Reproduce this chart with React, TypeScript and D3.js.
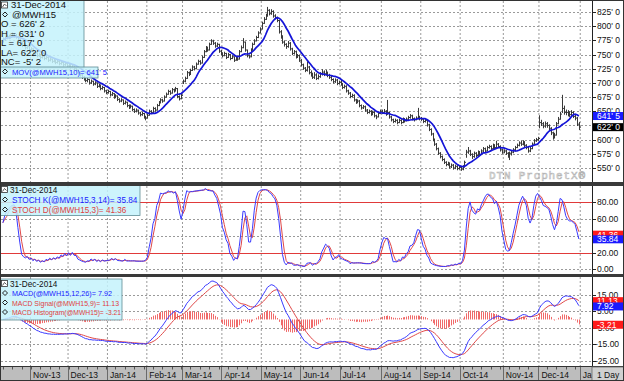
import React from "react";
import * as d3 from "d3";

// ---------- DATA (daily bars, first bar = 15 trading days before 1-Nov-2013) ----------
const firstIndex = -15;

const closes = [
  776,779,782,780,784,786,783,781,776,771,
  766,768,762,764,758,760,750,753,748,750,
  745,747,743,745,740,742,738,740,736,738,
  734,736,732,734,730,732,728,730,725,722,
  718,714,710,707,704,706,700,703,698,700,
  694,696,690,692,686,683,685,679,681,675,
  677,671,668,670,664,666,660,657,659,653,
  650,652,647,644,646,640,638,643,650,648,
  655,652,660,665,670,668,675,680,685,682,
  688,686,690,676,672,678,703,708,718,715,
  722,728,725,733,738,735,745,755,762,758,
  768,774,770,765,768,756,752,748,752,745,
  750,743,746,740,744,742,755,762,772,758,
  748,746,758,768,774,780,788,795,805,812,
  818,828,822,826,818,815,810,790,782,772,
  768,764,770,760,752,755,746,748,740,732,
  726,722,728,718,714,710,714,708,711,716,
  719,716,718,713,710,706,702,705,699,701,
  698,692,694,686,682,676,678,670,666,668,
  660,656,658,652,648,650,645,648,642,640,
  646,650,648,650,645,648,640,635,632,634,
  630,634,630,636,633,636,639,642,637,635,
  638,640,637,636,632,634,626,618,610,600,
  592,584,576,570,565,560,556,558,552,555,
  550,553,549,551,548,552,560,578,580,574,
  570,576,572,578,574,580,584,580,586,588,
  584,590,586,592,588,582,578,580,576,574,
  576,578,582,586,590,594,592,596,590,586,
  580,584,592,598,600,602,630,628,624,628,
  625,620,612,605,608,628,636,645,655,648,
  648,645,644,648,641,638,627.25,622,
];

const highs = [
  780,782,785,785,787,789,788,786,783,778,
  772,771,769,767,765,763,761,756,754,753,
  751,750,748,748,746,745,743,743,741,741,
  739,739,737,737,735,735,733,733,731,727,
  723,719,716,712,709,709,707,706,704,703,
  701,699,697,695,693,688,688,686,684,682,
  680,678,673,673,671,669,667,662,662,660,
  655,655,653,649,649,647,642,646,653,652,
  658,657,663,668,673,672,678,683,688,687,
  691,690,693,691,678,681,706,711,721,720,
  725,731,730,736,741,740,748,758,765,764,
  771,777,776,772,771,769,758,754,755,753,
  753,751,749,747,747,746,758,766,779,773,
  759,750,761,771,777,783,791,798,808,816,
  822,834,830,830,828,821,817,811,793,784,
  775,770,774,772,762,758,757,751,750,742,
  734,728,738,730,722,718,719,717,715,719,
  724,722,723,720,716,713,708,708,707,704,
  706,700,697,696,688,684,681,680,672,671,
  670,662,661,660,654,653,652,651,650,644,
  649,653,653,654,652,670,649,642,637,637,
  636,637,636,639,638,639,642,645,644,639,
  641,656,642,640,638,637,636,628,620,612,
  602,594,586,578,572,567,562,561,560,558,
  557,556,555,554,553,555,563,582,587,582,
  576,579,578,581,580,583,587,586,589,591,
  590,593,592,598,594,590,584,583,582,578,
  579,581,585,589,593,597,598,599,597,592,
  588,587,595,601,603,605,643,635,631,632,
  631,627,622,614,612,631,640,649,679,660,
  653,652,650,652,650,644,640,631,
];

const lows = [
  771,774,777,777,778,781,780,778,773,768,
  763,764,759,760,755,756,747,749,745,746,
  742,743,740,741,737,738,735,736,733,734,
  731,732,729,730,727,728,725,726,722,719,
  715,711,707,704,701,701,697,698,695,696,
  691,692,687,688,683,680,681,676,677,672,
  673,668,665,666,661,662,657,654,655,650,
  647,648,644,641,642,637,634,637,642,645,
  647,649,651,659,664,665,667,674,679,679,
  681,683,685,673,669,671,698,701,707,712,
  714,721,722,724,732,732,734,744,754,755,
  757,767,767,762,763,753,749,745,747,742,
  744,740,742,737,739,739,741,754,761,755,
  745,743,745,757,767,773,779,787,794,804,
  811,817,819,820,815,812,807,787,778,769,
  764,760,762,757,749,750,743,744,737,729,
  723,719,720,715,711,707,707,705,706,709,
  713,712,713,710,707,703,699,700,696,697,
  695,689,690,683,679,673,674,667,663,664,
  657,653,654,649,645,646,642,643,639,636,
  639,645,645,646,642,644,637,632,629,630,
  627,629,627,629,630,632,634,637,634,632,
  634,636,634,633,629,630,623,615,607,597,
  589,581,573,567,562,557,553,554,549,550,
  547,548,546,547,545,546,551,568,575,571,
  566,568,569,571,571,573,578,577,579,584,
  581,583,583,585,585,579,575,576,573,568,
  564,572,576,579,585,588,589,590,587,583,
  577,578,583,591,596,598,620,624,620,621,
  621,616,608,600,602,607,627,635,647,644,
  643,641,640,642,638,634,624,617,
];

const monthLabels = ["Nov-13","Dec-13","Jan-14","Feb-14","Mar-14","Apr-14","May-14","Jun-14","Jul-14","Aug-14","Sep-14","Oct-14","Nov-14","Dec-14","Ja"];
const monthTradingDays = [20,21,21,19,21,21,21,21,22,21,21,23,19,22];

const priceTicks = [550,575,600,625,650,675,700,725,750,775,800,825];
const stochTicks = [0,20,40,60,80];
const macdTicks = [-25,-15,-5,5,15];

const priceLegend = ["31-Dec-2014","@MWH15","O = 626' 2","H = 631' 0","L = 617' 0","LA= 622' 0","NC= -5' 2","MOV(@MWH15,10)= 641' 5"];
const stochLegend = ["31-Dec-2014","STOCH K(@MWH15,3,14)= 35.84","STOCH D(@MWH15,3)= 41.36"];
const macdLegend = ["31-Dec-2014","MACD(@MWH15,12,26)= 7.92","MACD Signal(@MWH15,9)= 11.13","MACD Histogram(@MWH15)= -3.21"];

const lastMov = 641.625, lastClose = 622;
const lastK = 35.84, lastD = 41.36;
const lastMacd = 7.92, lastSignal = 11.13, lastHist = -3.21;

// ---------- helpers ----------
function sma(a: number[], n: number) {
  return a.map((_, i) => d3.mean(a.slice(Math.max(0, i - n + 1), i + 1)) as number);
}
function ema(a: number[], n: number) {
  const k = 2 / (n + 1);
  const out: number[] = [];
  a.forEach((v, i) => out.push(i === 0 ? v : v * k + out[i - 1] * (1 - k)));
  return out;
}

const FONT = "Liberation Sans, Arial, sans-serif";
const BLUE = "#1414d8";
const RED = "#e04848";

function Diamond({ x, y }: { x: number; y: number }) {
  return <path d={`M${x},${y - 2.5}L${x + 2.5},${y}L${x},${y + 2.5}L${x - 2.5},${y}Z`} fill="none" stroke="#222" strokeWidth={1} />;
}
function ChartIcon({ x, y }: { x: number; y: number }) {
  return (
    <g>
      <rect x={x} y={y - 3} width={6} height={6} fill="#fff" stroke="#333" strokeWidth={0.8} />
      <path d={`M${x + 1},${y + 2}L${x + 3},${y - 1}L${x + 5},${y + 1}`} fill="none" stroke="#333" strokeWidth={0.8} />
    </g>
  );
}

export default function App() {
  const xs = d3.scaleLinear().domain([-16, 299]).range([1, 592]);
  const yP = d3.scaleLinear().domain([550, 825]).range([168, 12]);
  const yS = d3.scaleLinear().domain([0, 100]).range([269.3, 185.6]);
  const yM = d3.scaleLinear().domain([-25, 15]).range([360.6, 294.8]);

  const idx = closes.map((_, i) => firstIndex + i);
  const ma = sma(closes, 10);
  const rawK = closes.map((c, i) => {
    const s = Math.max(0, i - 13);
    const hh = d3.max(highs.slice(s, i + 1)) as number;
    const ll = d3.min(lows.slice(s, i + 1)) as number;
    return hh === ll ? 50 : ((c - ll) / (hh - ll)) * 100;
  });
  const K = sma(rawK, 3);
  const D = sma(K, 3);
  const e12 = ema(closes, 12);
  const e26 = ema(closes, 26);
  const macd = e12.map((v, i) => v - e26[i]);
  const sig = ema(macd, 9);
  const hist = macd.map((v, i) => v - sig[i]);

  const monthStarts: number[] = [];
  let acc = 0;
  monthLabels.forEach((_, m) => {
    monthStarts.push(acc);
    acc += monthTradingDays[m] ?? 0;
  });

  const line = (vals: number[], ys: d3.ScaleLinear<number, number>) =>
    d3.line<number>().x((_, i) => xs(idx[i])).y((v) => ys(v))(vals) || "";

  const panels = [
    { id: "cp", y0: 1, y1: 182 },
    { id: "cs", y0: 186, y1: 274 },
    { id: "cm", y0: 277, y1: 366 },
  ];

  const weekTicks = idx.filter((i) => (i - firstIndex) % 5 === 0);

  // tags that cover an axis label completely
  const tagYs = [yP(lastMov), yP(lastClose), yS(lastD), yS(lastK), yM(lastSignal), yM(lastMacd), yM(lastHist)];
  const hidden = (y: number) => tagYs.some((t) => Math.abs(t - y) < 2.5);

  const tag = (y: number, text: string, fill: string, key: string) => (
    <g key={key}>
      <rect x={593} y={y - 4} width={31} height={8} fill={fill} />
      <text x={597} y={y + 3} fontSize={8.5} fill="#fff" fontFamily={FONT}>{text}</text>
    </g>
  );

  const macdWidths = [0, 100, 107, 109];

  return (
    <svg width={624} height={381} style={{ position: "absolute", left: 0, top: 0, background: "#fff" }}>
      <defs>
        {panels.map((p) => (
          <clipPath id={p.id} key={p.id}>
            <rect x={1} y={p.y0} width={591} height={p.y1 - p.y0} />
          </clipPath>
        ))}
      </defs>
      <rect x={0} y={0} width={624} height={381} fill="#fff" />

      {/* grids */}
      {panels.map((p) =>
        monthStarts.map((m, k) => (
          <line key={p.id + "v" + k} x1={xs(m) - 0.5} x2={xs(m) - 0.5} y1={p.y0} y2={p.y1} stroke="#9a9a9a" strokeDasharray="2,2" strokeWidth={1} />
        ))
      )}
      {priceTicks.map((t) => (
        <line key={"pg" + t} x1={1} x2={592} y1={Math.round(yP(t)) + 0.5} y2={Math.round(yP(t)) + 0.5} stroke="#9a9a9a" strokeDasharray="2,2" />
      ))}
      {stochTicks.map((t) => (
        <line key={"sg" + t} x1={1} x2={592} y1={Math.round(yS(t)) + 0.5} y2={Math.round(yS(t)) + 0.5} stroke="#9a9a9a" strokeDasharray="2,2" />
      ))}
      {macdTicks.map((t) => (
        <line key={"mg" + t} x1={1} x2={592} y1={Math.round(yM(t)) + 0.5} y2={Math.round(yM(t)) + 0.5} stroke="#9a9a9a" strokeDasharray="2,2" />
      ))}
      {[80, 20].map((t) => (
        <line key={"sr" + t} x1={1} x2={592} y1={Math.round(yS(t)) + 0.5} y2={Math.round(yS(t)) + 0.5} stroke="#e03a3a" strokeWidth={1} />
      ))}

      {/* watermark */}
      <text x={489} y={179} fontSize={11} fontFamily="Liberation Mono, DejaVu Sans Mono, monospace" fill="none" stroke="#b4b4b4" strokeWidth={0.6} textLength={96}>DTN ProphetX®</text>

      {/* price bars */}
      <g clipPath="url(#cp)" stroke="#3a3a3a" strokeWidth={1}>
        {closes.map((c, i) => {
          const x = Math.round(xs(idx[i])) + 0.5;
          return (
            <g key={"b" + i}>
              <line x1={x} x2={x} y1={yP(highs[i])} y2={yP(lows[i])} />
              <line x1={x} x2={x + 1.5} y1={yP(c)} y2={yP(c)} />
            </g>
          );
        })}
        <path d={line(ma, yP)} fill="none" stroke={BLUE} strokeWidth={1.7} />
      </g>

      {/* stochastics */}
      <g clipPath="url(#cs)">
        <path d={line(D, yS)} fill="none" stroke={RED} strokeWidth={1} />
        <path d={line(K, yS)} fill="none" stroke="#3a3aff" strokeWidth={1} />
      </g>

      {/* macd */}
      <g clipPath="url(#cm)">
        {hist.map((h, i) => (
          <line key={"h" + i} x1={Math.round(xs(idx[i])) + 0.5} x2={Math.round(xs(idx[i])) + 0.5} y1={yM(0)} y2={yM(h)} stroke="#f06a6a" strokeWidth={1} />
        ))}
        <path d={line(sig, yM)} fill="none" stroke={RED} strokeWidth={1} />
        <path d={line(macd, yM)} fill="none" stroke="#3a3aff" strokeWidth={1} />
      </g>

      {/* legends */}
      <g fontFamily={FONT}>
        <rect x={0} y={0} width={84} height={68} fill="#c4f2fb" fillOpacity={0.85} stroke="#5f8c94" strokeWidth={0.8} />
        <rect x={0} y={67} width={98} height={11} fill="#c4f2fb" fillOpacity={0.85} stroke="#5f8c94" strokeWidth={0.8} />
        {priceLegend.map((t, k) => {
          const yb = 8 + k * 9.5;
          const hasDiamond = k === 1 || k === 7;
          return (
            <g key={"pl" + k}>
              {k === 0 && <ChartIcon x={1.5} y={yb - 3} />}
              {hasDiamond && <Diamond x={5} y={yb - 3} />}
              <text x={k === 0 ? 11 : hasDiamond ? 12 : 1} y={yb} fontSize={k === 7 ? 7.6 : 9.5} fill={k === 7 ? "#1a1aff" : "#111"}>{t}</text>
            </g>
          );
        })}

        <rect x={0} y={185.5} width={140} height={30} fill="#c4f2fb" fillOpacity={0.85} stroke="#5f8c94" strokeWidth={0.8} />
        {stochLegend.map((t, k) => {
          const yb = 192.5 + k * 10;
          return (
            <g key={"sl" + k}>
              {k === 0 ? <ChartIcon x={1.5} y={yb - 3} /> : <Diamond x={5} y={yb - 3} />}
              <text x={k === 0 ? 10 : 12} y={yb} fontSize={8.2} fill={k === 0 ? "#111" : k === 1 ? "#1a1aff" : "#e04040"}>{t}</text>
            </g>
          );
        })}

        <rect x={0} y={279} width={122} height={41} fill="#c4f2fb" fillOpacity={0.85} stroke="#5f8c94" strokeWidth={0.8} />
        {macdLegend.map((t, k) => {
          const yb = 286.5 + k * 9.5;
          return (
            <g key={"ml" + k}>
              {k === 0 ? <ChartIcon x={1.5} y={yb - 3} /> : <Diamond x={5} y={yb - 3} />}
              <text x={k === 0 ? 10 : 12} y={yb} fontSize={k === 0 ? 8.2 : 7.6} fill={k === 0 ? "#111" : k === 1 ? "#1a1aff" : "#e04040"} textLength={k === 0 ? undefined : macdWidths[k]} lengthAdjust="spacingAndGlyphs">{t}</text>
            </g>
          );
        })}
      </g>

      {/* right axis */}
      <rect x={592} y={1} width={32} height={365} fill="#fff" />
      <line x1={592.5} x2={592.5} y1={0} y2={366} stroke="#222" />
      <g fontFamily={FONT} fontSize={8.5} fill="#111">
        {priceTicks.map((t) => (
          <g key={"pa" + t}>
            <line x1={592} x2={596} y1={Math.round(yP(t)) + 0.5} y2={Math.round(yP(t)) + 0.5} stroke="#222" />
            {!hidden(yP(t)) && <text x={597} y={yP(t) + 3}>{`${t}' 0`}</text>}
          </g>
        ))}
        {stochTicks.map((t) => (
          <g key={"sa" + t}>
            <line x1={592} x2={596} y1={Math.round(yS(t)) + 0.5} y2={Math.round(yS(t)) + 0.5} stroke="#222" />
            {!hidden(yS(t)) && <text x={597} y={yS(t) + 3}>{t.toFixed(2)}</text>}
          </g>
        ))}
        {macdTicks.map((t) => (
          <g key={"ma" + t}>
            <line x1={592} x2={596} y1={Math.round(yM(t)) + 0.5} y2={Math.round(yM(t)) + 0.5} stroke="#222" />
            {!hidden(yM(t)) && <text x={t < 0 ? 595 : 597} y={yM(t) + 3}>{t.toFixed(2)}</text>}
          </g>
        ))}
      </g>
      {tag(yP(lastMov), "641' 5", "#1a1aff", "t1")}
      {tag(yP(lastClose), "622' 0", "#000", "t2")}
      {tag(yS(lastD), lastD.toFixed(2), "#ff1a1a", "t3")}
      {tag(yS(lastK), lastK.toFixed(2), "#1a1aff", "t4")}
      {tag(yM(lastSignal), lastSignal.toFixed(2), "#ff1a1a", "t5")}
      {tag(yM(lastMacd), lastMacd.toFixed(2), "#1a1aff", "t6")}
      {tag(yM(lastHist), lastHist.toFixed(2), "#ff1a1a", "t7")}

      {/* panel separators */}
      <rect x={0} y={182} width={624} height={4} fill="#3a3a3a" />
      <rect x={0} y={274} width={624} height={3} fill="#3a3a3a" />

      {/* date axis */}
      <rect x={0} y={366} width={624} height={15} fill="#bdbdbd" />
      <line x1={0} x2={624} y1={366.5} y2={366.5} stroke="#333" />
      {weekTicks.map((i) => (
        <line key={"wt" + i} x1={Math.round(xs(i)) + 0.5} x2={Math.round(xs(i)) + 0.5} y1={367} y2={369.5} stroke="#555" />
      ))}
      {monthStarts.map((m, k) => (
        <g key={"ml" + k}>
          <line x1={Math.round(xs(m)) - 0.5} x2={Math.round(xs(m)) - 0.5} y1={367} y2={381} stroke="#6a6a6a" />
          <text x={xs(m) + 2} y={378} fontSize={8.5} fontFamily={FONT} fill="#111">{monthLabels[k]}</text>
        </g>
      ))}
      <rect x={592} y={367} width={32} height={14} fill="#d0d0d0" stroke="#666" strokeWidth={0.8} />
      <text x={597} y={378} fontSize={8.5} fontFamily={FONT} fill="#111">1 Day</text>

      <rect x={0.5} y={0.5} width={623} height={380} fill="none" stroke="#333" />
    </svg>
  );
}
